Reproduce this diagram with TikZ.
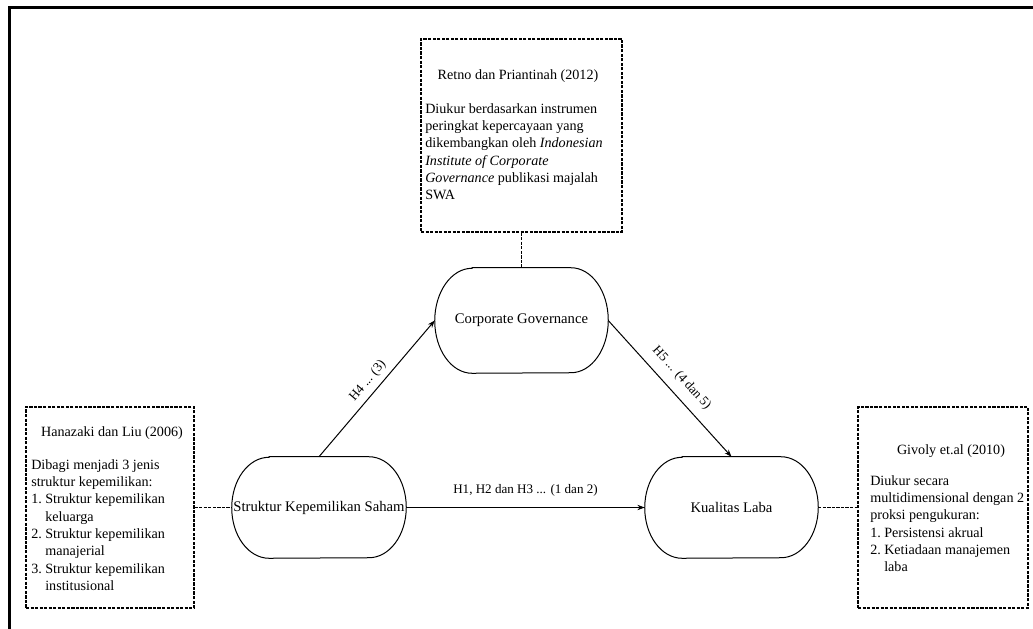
\documentclass[tikz,border=0pt]{standalone}
\usepackage{fontspec}
\setmainfont{Liberation Serif}
\usetikzlibrary{arrows.meta}
\newcommand{\stadiumdraw}[2]{% node name, half height
  \draw[line width=0.75pt] ([xshift=28pt]#1.north west) -- ([xshift=-28pt]#1.north east)
    arc[start angle=90,end angle=-90,x radius=28pt,y radius=#2]
    -- ([xshift=28pt]#1.south west)
    arc[start angle=270,end angle=90,x radius=28pt,y radius=#2] -- cycle;}
\begin{document}
\begin{tikzpicture}[x=0.75pt,y=-0.75pt,
  boxtxt/.style={font=\fontsize{10.6}{13}\selectfont, inner sep=0pt},
  dbox/.style={draw, dash pattern=on 2.4pt off 1pt, line width=1pt, inner sep=0pt},
  dline/.style={dash pattern=on 2.4pt off 1pt, line width=1pt},
  core/.style={inner sep=0pt, font=\fontsize{11}{13}\selectfont},
  arr/.style={line width=0.75pt, -{Stealth[length=5.5pt,width=4pt]}},
  lbl/.style={font=\fontsize{9.8}{12}\selectfont, inner sep=2pt}]
\useasboundingbox (0,0) rectangle (1033,629);
\draw[line width=2.25pt] (9.5,629) -- (9.5,7.5) -- (1033,7.5);

% dashed boxes
\node[dbox, minimum width=150.75pt, minimum height=144.75pt] (tbox) at (521.5,135.5) {};
\node[dbox, minimum width=126pt, minimum height=150.75pt] (lbox) at (110,507.5) {};
\node[dbox, minimum width=127.5pt, minimum height=150.75pt] (rbox) at (943,507.5) {};

% box texts
\node[boxtxt, anchor=base] (ttitle) at (518,79) {Retno dan Priantinah (2012)};
\node[boxtxt, anchor=base west] (tbody) at (425,113) {\parbox[t]{148pt}{\raggedright
Diukur berdasarkan instrumen\\
peringkat kepercayaan yang\\
dikembangkan oleh \textit{Indonesian}\\
\textit{Institute of Corporate}\\
\textit{Governance} publikasi majalah\\
SWA}};

\node[boxtxt, anchor=base] (ltitle) at (112,436) {Hanazaki dan Liu (2006)};
\node[boxtxt, anchor=base west] (lbody) at (31,469) {\parbox[t]{122pt}{\raggedright
Dibagi menjadi 3 jenis\\
struktur kepemilikan:\\
\makebox[10.5pt][l]{1.}Struktur kepemilikan\\
\hspace*{10.5pt}keluarga\\
\makebox[10.5pt][l]{2.}Struktur kepemilikan\\
\hspace*{10.5pt}manajerial\\
\makebox[10.5pt][l]{3.}Struktur kepemilikan\\
\hspace*{10.5pt}institusional}};

\node[boxtxt, anchor=base] (rtitle) at (951,454) {Givoly et.al (2010)};
\node[boxtxt, anchor=base west] (rbody) at (870,485) {\parbox[t]{122pt}{\raggedright
Diukur secara\\
multidimensional dengan 2\\
proksi pengukuran:\\
\makebox[10.5pt][l]{1.}Persistensi akrual\\
\makebox[10.5pt][l]{2.}Ketiadaan manajemen\\
\hspace*{10.5pt}laba}};

% core nodes
\node[core, minimum width=129.75pt, minimum height=78.75pt] (cg) at (521.5,320.5) {Corporate Governance};
\node[core, minimum width=130.5pt, minimum height=75.75pt] (s) at (319,507.5) {Struktur Kepemilikan Saham};
\node[core, minimum width=129.75pt, minimum height=75.75pt] (k) at (731.5,507.5) {Kualitas Laba};
\stadiumdraw{cg}{39.375pt}
\stadiumdraw{s}{37.875pt}
\stadiumdraw{k}{37.875pt}

% connectors
\draw[dline] (tbox.south) -- (cg.north);
\draw[dline] (lbox.east) -- (s.west);
\draw[dline] (k.east) -- (rbox.west);
\draw[arr] (s.north) -- node[lbl, midway, above=2pt, sloped] (h4) {H4 ... (3)} (cg.west);
\draw[arr] (cg.east) -- node[lbl, midway, above=5pt, sloped] (h5) {H5 ... (4 dan 5)} (k.north);
\draw[arr] (s.east) -- node[lbl, midway, above=6pt] (h1) {H1, H2 dan H3 ... (1 dan 2)} (k.west);
\end{tikzpicture}
\end{document}
